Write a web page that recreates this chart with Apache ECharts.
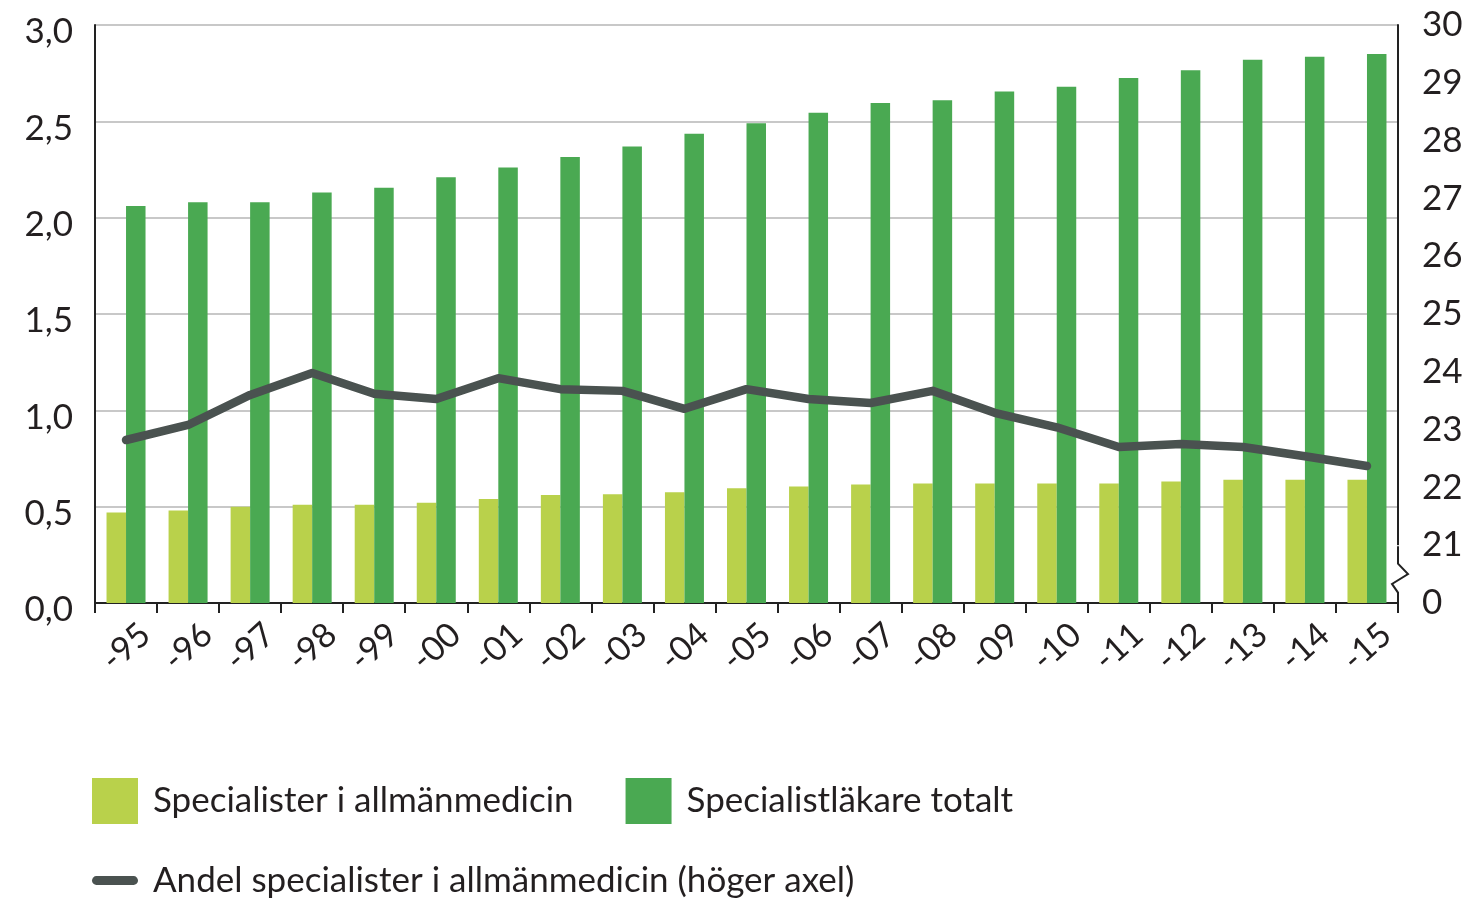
<!DOCTYPE html>
<html>
<head>
<meta charset="utf-8">
<script src="https://cdn.jsdelivr.net/npm/echarts@6/dist/echarts.min.js"></script>
<style>
  html, body { margin: 0; padding: 0; background: #fff; }
  #chart { width: 1470px; height: 901px; }
</style>
</head>
<body>
<div id="chart"></div>
<script>
// Years shown on the category axis
const years = ['-95','-96','-97','-98','-99','-00','-01','-02','-03','-04','-05',
               '-06','-07','-08','-09','-10','-11','-12','-13','-14','-15'];

// Specialists in general practice (thousands, left axis)
const allmanmedicin = [0.47, 0.48, 0.50, 0.51, 0.51, 0.52, 0.54, 0.56, 0.565, 0.575, 0.595,
                       0.605, 0.615, 0.62, 0.62, 0.62, 0.62, 0.63, 0.64, 0.64, 0.64];

// All specialist physicians (thousands, left axis)
const totalt = [2.06, 2.08, 2.08, 2.13, 2.155, 2.21, 2.26, 2.315, 2.37, 2.435, 2.49,
                2.545, 2.595, 2.61, 2.655, 2.68, 2.725, 2.765, 2.82, 2.835, 2.85];

// Share of general practice specialists in percent (right axis)
const andel = [22.82, 23.08, 23.60, 23.98, 23.62, 23.53, 23.89, 23.70, 23.67, 23.36, 23.70,
               23.53, 23.46, 23.67, 23.29, 23.04, 22.70, 22.75, 22.70, 22.54, 22.37];

// Tick labels
const leftTicks = ['0,0', '0,5', '1,0', '1,5', '2,0', '2,5', '3,0'];

const FONT = 'Lato, "Noto Sans", sans-serif';
const TEXT = '#231f20';

const chart = echarts.init(document.getElementById('chart'), null, { renderer: 'canvas' });

const option = {
  animation: false,
  textStyle: { fontFamily: FONT },
  grid: { left: 95, right: 72, top: 25, bottom: 298, containLabel: false },
  legend: [
    {
      data: ['Specialister i allmänmedicin', 'Specialistläkare totalt'],
      left: 92, top: 778, padding: 0,
      itemWidth: 46, itemHeight: 46, itemGap: 52,
      icon: 'rect',
      textStyle: { fontFamily: FONT, fontSize: 35, color: TEXT, padding: [0, 0, 0, 10] }
    },
    {
      data: ['Andel specialister i allmänmedicin (höger axel)'],
      left: 92, top: 863, padding: 0,
      itemWidth: 46, itemHeight: 46,
      icon: 'path://M4,19 L42,19 A4.5,4.5 0 0 1 42,28 L4,28 A4.5,4.5 0 0 1 4,19 Z',
      textStyle: { fontFamily: FONT, fontSize: 35, color: TEXT, padding: [0, 0, 0, 10] }
    }
  ],
  xAxis: {
    type: 'category',
    data: years,
    axisLine: { show: true, lineStyle: { color: '#222', width: 2 } },
    axisTick: { show: true, interval: 0, alignWithLabel: false, length: 10, lineStyle: { color: '#222', width: 2 } },
    axisLabel: {
      interval: 0,
      rotate: 42, align: 'center', verticalAlign: 'middle', margin: 44,
      fontFamily: FONT, fontSize: 34, color: TEXT
    }
  },
  yAxis: [
    {
      type: 'value', min: 0, max: 3, interval: 0.5,
      axisLine: { show: true, lineStyle: { color: '#222', width: 2 } },
      axisTick: { show: false },
      splitLine: { show: true, lineStyle: { color: '#c8c8c8', width: 2 } },
      axisLabel: {
        margin: 22, color: TEXT,
        formatter: v => '{v|' + leftTicks[Math.round(v * 2)] + '}',
        rich: {
          v: { fontFamily: FONT, fontSize: 35, color: TEXT, padding: [14, 0, 0, 0] }
        }
      }
    },
    {
      type: 'value', min: 20, max: 30, interval: 1,
      position: 'right',
      axisLine: { show: true, lineStyle: { color: '#222', width: 2 } },
      axisTick: { show: false },
      splitLine: { show: false },
      axisLabel: {
        margin: 24, fontFamily: FONT, fontSize: 35, color: TEXT,
        formatter: v => (v === 20 ? '0' : String(v))
      }
    }
  ],
  series: [
    {
      name: 'Specialister i allmänmedicin',
      type: 'bar',
      data: allmanmedicin,
      barWidth: 19.5,
      barGap: '0%',
      itemStyle: { color: '#b9d14b' }
    },
    {
      name: 'Specialistläkare totalt',
      type: 'bar',
      data: totalt,
      barWidth: 19.5,
      barGap: '0%',
      itemStyle: { color: '#4aa952' }
    },
    {
      name: 'Andel specialister i allmänmedicin (höger axel)',
      type: 'line',
      yAxisIndex: 1,
      data: andel,
      symbol: 'none',
      lineStyle: { color: '#4a5250', width: 8.5, cap: 'round', join: 'round' },
      itemStyle: { color: '#4a5250' },
      z: 5
    }
  ]
};

chart.setOption(option);

// Broken-axis zigzag on the right axis between the "0" and "21" ticks
(function drawBreak() {
  const xRight = chart.getWidth() - 72;
  const y21 = chart.convertToPixel({ yAxisIndex: 1 }, 21);
  const y20 = chart.convertToPixel({ yAxisIndex: 1 }, 20);
  const h = y20 - y21;
  chart.setOption({
    graphic: [
      {
        type: 'rect',
        shape: { x: xRight - 3, y: y21, width: 6, height: h - 3 },
        style: { fill: '#fff' },
        z: 100
      },
      {
        type: 'polyline',
        shape: {
          points: [
            [xRight, y21 + h * 0.02],
            [xRight, y21 + h * 0.32],
            [xRight + 10, y21 + h * 0.50],
            [xRight - 6, y21 + h * 0.67],
            [xRight, y21 + h * 0.82],
            [xRight, y20]
          ]
        },
        style: { stroke: '#222', lineWidth: 2, fill: null },
        z: 101
      }
    ]
  });
})();
</script>
</body>
</html>
